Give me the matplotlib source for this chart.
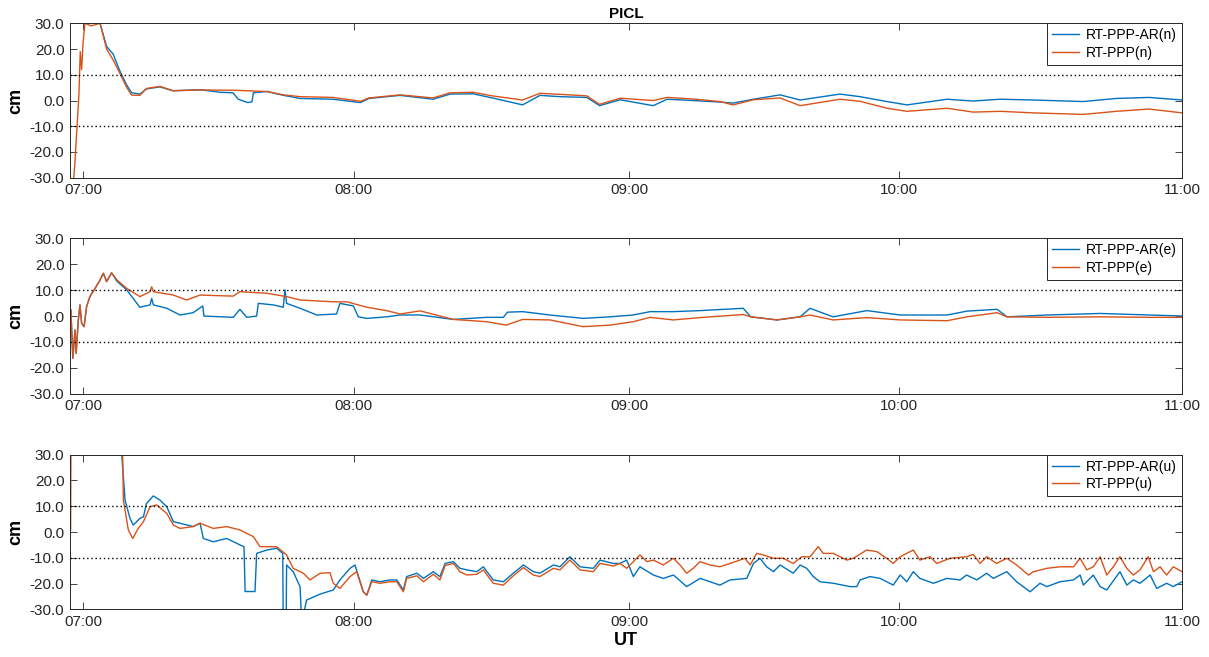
import matplotlib
matplotlib.use("Agg")
import matplotlib.pyplot as plt
from matplotlib.ticker import FormatStrFormatter

plt.rcParams['font.family'] = ['Liberation Sans', 'DejaVu Sans']
plt.rcParams['axes.unicode_minus'] = False

# time in decimal hours (UT), values in cm
# --- north ---
n_ar_t = [7.0, 7.062, 7.086, 7.11, 7.134, 7.159, 7.177, 7.207, 7.231, 7.28, 7.327, 7.426, 7.5, 7.546,
          7.565, 7.6, 7.615, 7.62, 7.67, 7.73, 7.79, 7.91, 8.01, 8.04, 8.154, 8.274, 8.336, 8.42, 8.49,
          8.6, 8.663, 8.736, 8.834, 8.88, 8.955, 9.075, 9.126, 9.22, 9.318, 9.366, 9.44, 9.537, 9.61,
          9.755, 9.828, 9.926, 9.999, 10.145, 10.24, 10.338, 10.458, 10.64, 10.76, 10.88, 11.0]
n_ar_v = [35, 30, 21, 18, 11.5, 6, 3, 2.5, 4.5, 5.3, 3.8, 4.2, 3.2, 3.0,
          0.5, -0.8, -0.5, 3.0, 3.5, 2.0, 0.8, 0.5, -0.8, 0.8, 2.0, 0.5, 2.5, 2.6, 1.0,
          -1.7, 2.0, 1.5, 1.2, -2.0, 0.3, -2.0, 0.5, 0.0, -0.6, -1.0, 0.5, 2.2, 0.2,
          2.5, 1.5, -0.4, -1.7, 0.5, -0.2, 0.5, 0.2, -0.4, 0.8, 1.2, 0.2]
n_t = [6.955, 6.97, 6.985, 6.99, 6.995, 7.0, 7.007, 7.03, 7.062, 7.086, 7.11, 7.134, 7.159, 7.177,
       7.207, 7.231, 7.28, 7.327, 7.426, 7.546, 7.67, 7.73, 7.79, 7.91, 8.01, 8.04, 8.154, 8.274,
       8.336, 8.42, 8.49, 8.6, 8.663, 8.736, 8.834, 8.88, 8.955, 9.075, 9.126, 9.22, 9.318, 9.366,
       9.44, 9.537, 9.61, 9.755, 9.828, 9.926, 9.999, 10.145, 10.24, 10.338, 10.458, 10.64, 10.76,
       10.88, 11.0]
n_v = [-45, -25, 2, 19, 12, 22, 30, 29, 30, 20, 15.7, 10.6, 5.1, 2.1,
       2.0, 4.7, 5.5, 3.8, 4.1, 4.0, 3.5, 2.2, 1.5, 1.2, -0.3, 1.0, 2.2, 1.0,
       3.0, 3.2, 1.8, 0.2, 2.8, 2.4, 1.8, -1.5, 0.9, 0.0, 1.2, 0.6, -0.4, -1.7,
       0.3, 1.0, -2.0, 0.5, -0.3, -3.0, -4.2, -3.0, -4.5, -4.2, -4.8, -5.4, -4.2,
       -3.3, -4.8]

# --- east ---
e_ar_t = [6.956, 6.963, 6.971, 6.975, 6.983, 6.989, 6.995, 7.004, 7.013, 7.025, 7.044, 7.062, 7.074,
          7.086, 7.104, 7.123, 7.159, 7.207, 7.244, 7.25, 7.256, 7.305, 7.353, 7.401, 7.436, 7.44,
          7.547, 7.571, 7.596, 7.632, 7.638, 7.693, 7.729, 7.735, 7.741, 7.79, 7.851, 7.923, 7.935,
          7.984, 8.002, 8.033, 8.105, 8.154, 8.227, 8.347, 8.47, 8.53, 8.545, 8.6, 8.7, 8.82, 8.918,
          9.002, 9.064, 9.148, 9.246, 9.403, 9.43, 9.526, 9.61, 9.646, 9.73, 9.853, 9.974, 10.145,
          10.217, 10.327, 10.363, 10.509, 10.702, 10.884, 11.0]
e_ar_v = [2.3, -16.3, -5.4, -14.4, -1.5, 4.3, -2.8, -4.1, 3.6, 7.5, 10.7, 13.9, 16.5,
          13.3, 16.7, 13.5, 10.1, 3.4, 4.3, 6.8, 4.3, 3.0, 0.4, 1.3, 3.9, 0.0,
          -0.5, 2.6, -0.5, 0.0, 4.9, 4.3, 3.4, 10.1, 4.9, 3.0, 0.4, 0.8, 4.9,
          3.9, -0.3, -0.9, -0.3, 0.4, 0.4, -1.3, -0.5, -0.5, 1.5, 1.7, 0.4, -0.9, -0.3,
          0.4, 1.7, 1.7, 2.1, 3.0, -0.3, -1.5, -0.3, 3.0, -0.3, 2.1, 0.4, 0.4,
          1.9, 2.6, -0.3, 0.4, 1.0, 0.4, 0.0]
e_t = [6.956, 6.963, 6.971, 6.975, 6.983, 6.989, 6.995, 7.004, 7.013, 7.025, 7.044, 7.062, 7.074,
       7.086, 7.104, 7.123, 7.159, 7.207, 7.244, 7.25, 7.256, 7.329, 7.377, 7.426, 7.547, 7.571,
       7.669, 7.741, 7.79, 7.911, 7.96, 8.033, 8.105, 8.154, 8.227, 8.347, 8.47, 8.54, 8.6, 8.7,
       8.82, 8.918, 9.002, 9.064, 9.148, 9.246, 9.403, 9.43, 9.526, 9.61, 9.646, 9.73, 9.853,
       9.974, 10.145, 10.217, 10.327, 10.363, 10.509, 10.702, 10.884, 11.0]
e_v = [2.3, -16.3, -5.4, -14.4, -1.5, 4.3, -2.8, -4.1, 3.6, 7.5, 10.7, 13.9, 16.5,
       13.3, 16.7, 14.0, 10.7, 7.5, 9.4, 11.3, 9.4, 8.1, 6.2, 8.1, 7.7, 9.4,
       8.8, 7.5, 6.2, 5.5, 5.5, 3.4, 2.1, 0.8, 2.0, -1.3, -2.2, -3.5, -1.3, -1.5,
       -4.1, -3.5, -2.2, -0.5, -1.5, -0.6, 0.6, -0.3, -1.5, -0.3, 0.4, -1.5, -0.6,
       -1.5, -1.8, -0.3, 1.3, -0.3, -0.5, -0.3, -0.5, -0.5]

# --- up ---
u_ar_t = [7.0, 7.135, 7.141, 7.153, 7.171, 7.183, 7.207, 7.22, 7.231, 7.256, 7.28, 7.305, 7.329,
          7.353, 7.401, 7.426, 7.438, 7.474, 7.523, 7.571, 7.586, 7.59, 7.626, 7.632, 7.669, 7.705,
          7.727, 7.729, 7.739, 7.741, 7.765, 7.79, 7.796, 7.814, 7.863, 7.911,
          7.935, 7.972, 7.99, 8.02, 8.033, 8.051, 8.081, 8.117, 8.142, 8.166, 8.178, 8.215, 8.239,
          8.275, 8.299, 8.318, 8.348, 8.372, 8.397, 8.433, 8.457, 8.493, 8.53, 8.566, 8.603, 8.639,
          8.663, 8.712, 8.736, 8.772, 8.809, 8.857, 8.882, 8.93,
          8.954, 8.979, 9.003, 9.027, 9.076, 9.112, 9.149, 9.197, 9.246, 9.282, 9.318, 9.355, 9.416,
          9.44, 9.464, 9.488, 9.513, 9.537, 9.585, 9.61, 9.634, 9.658, 9.682, 9.731, 9.792, 9.816,
          9.828, 9.864, 9.901, 9.949,
          9.974, 9.998, 10.022, 10.046, 10.095, 10.144, 10.192, 10.216, 10.253, 10.289, 10.313,
          10.362, 10.398, 10.447, 10.483, 10.508, 10.556, 10.605, 10.629, 10.641, 10.677, 10.702,
          10.726, 10.774, 10.799, 10.823, 10.847, 10.884, 10.908, 10.944, 10.968, 11.0]
u_ar_v = [60, 60, 30, 12.4, 5.3, 2.7, 5.3, 5.9, 11.1, 14.0, 12.4, 9.8, 4.0,
          3.4, 2.1, 3.4, -2.5, -3.8, -2.5, -5.0, -5.7, -23.1, -23.1, -8.3, -7.0, -6.3,
          -8.3, -40, -40, -12.8, -15.4, -21.2, -35, -26.4, -24.1, -22.5,
          -18.6, -14.1, -12.8, -23.2, -24.5, -18.6, -19.3, -18.6, -18.6, -22.5, -17.3, -16.0, -18.0,
          -15.4, -17.3, -12.2, -11.5, -14.1, -14.7, -15.4, -13.5, -18.6, -19.3, -16.0, -12.8, -15.4,
          -16.0, -12.8, -13.5, -9.6, -13.5, -14.1, -10.9, -12.2,
          -12.2, -10.9, -17.3, -13.5, -16.7, -18.0, -16.7, -21.2, -18.0, -19.3, -20.6, -18.6, -18.0,
          -12.2, -10.2, -13.5, -15.4, -12.8, -16.0, -12.8, -14.1, -17.3, -19.3, -19.9, -21.2, -21.2,
          -18.6, -17.3, -18.0, -20.6,
          -16.7, -19.3, -15.4, -18.0, -19.9, -18.0, -18.6, -16.7, -18.6, -16.0, -18.0,
          -15.4, -19.3, -23.2, -19.9, -21.2, -19.3, -18.6, -16.7, -20.6, -16.7, -21.2,
          -22.5, -15.4, -20.6, -18.6, -19.9, -16.7, -21.9, -19.9, -21.2, -19.3]
u_t = [6.955, 6.957, 7.14, 7.147, 7.165, 7.181, 7.201, 7.22, 7.244, 7.268, 7.305, 7.329, 7.353,
       7.401, 7.426, 7.474, 7.523, 7.571, 7.62, 7.644, 7.669, 7.705, 7.741, 7.765, 7.802, 7.826,
       7.863, 7.899, 7.911,
       7.935, 7.972, 7.996, 8.02, 8.033, 8.051, 8.081, 8.117, 8.142, 8.166, 8.178, 8.215, 8.239,
       8.275, 8.299, 8.318, 8.348, 8.372, 8.397, 8.433, 8.457, 8.493, 8.53, 8.566, 8.603, 8.639,
       8.663, 8.712, 8.736, 8.772, 8.809, 8.857, 8.882, 8.93,
       8.954, 8.979, 9.003, 9.027, 9.052, 9.076, 9.112, 9.149, 9.173, 9.197, 9.221, 9.246, 9.282,
       9.318, 9.355, 9.409, 9.428, 9.452, 9.476, 9.513, 9.549, 9.585, 9.616, 9.646, 9.676, 9.694,
       9.731, 9.78, 9.804, 9.852, 9.889, 9.925, 9.949,
       9.974, 10.022, 10.046, 10.083, 10.107, 10.156, 10.216, 10.24, 10.265, 10.289, 10.325,
       10.362, 10.398, 10.441, 10.459, 10.508, 10.556, 10.605, 10.629, 10.653, 10.677, 10.702,
       10.726, 10.75, 10.774, 10.799, 10.823, 10.847, 10.877, 10.896, 10.92, 10.944, 10.968, 11.0]
u_v = [1, 60, 60, 12.4, 0.8, -2.5, 1.4, 4.0, 9.8, 10.5, 7.2, 2.7, 1.4,
       2.1, 3.4, 1.4, 2.1, 0.8, -1.8, -5.7, -5.7, -5.7, -8.9, -14.1, -16.0, -18.6,
       -16.0, -15.8, -19.9,
       -21.9, -17.3, -15.4, -23.2, -24.5, -19.3, -19.9, -19.3, -19.3, -23.2, -18.0, -17.0, -19.3,
       -16.4, -18.6, -13.0, -12.2, -15.4, -16.7, -16.4, -14.7, -19.9, -20.6, -17.0, -13.8, -16.7,
       -17.3, -14.1, -14.7, -10.9, -14.7, -15.4, -12.2, -13.2,
       -12.2, -14.1, -11.5, -8.9, -11.5, -10.9, -12.8, -10.2, -12.8, -16.0, -14.1, -11.5, -12.8,
       -13.5, -12.2, -10.2, -12.8, -8.3, -8.9, -10.2, -10.2, -12.2, -9.6, -9.6, -5.7, -8.3,
       -8.3, -10.9, -10.2, -7.0, -7.6, -10.2, -12.2,
       -9.6, -7.0, -10.9, -9.6, -12.2, -10.2, -9.6, -8.7, -12.2, -9.6, -12.2,
       -10.2, -12.8, -16.7, -15.4, -14.1, -13.5, -13.5, -10.2, -14.7, -13.5, -9.6,
       -16.7, -13.5, -9.6, -14.1, -16.7, -14.7, -9.6, -15.4, -13.5, -16.7, -13.5, -15.4]

# hour tick marks as they sit in the source figure
hour_ticks = [7.0, 7.986, 8.987, 9.970, 11.0]
hour_labels = ['07:00', '08:00', '09:00', '10:00', '11:00']
y_ticks = [-30, -20, -10, 0, 10, 20, 30]
comp_labels = ['n', 'e', 'u']

BLUE = '#0072BD'
ORANGE = '#D95319'
AXC = '#262626'

fig = plt.figure(figsize=(12.09, 6.57), dpi=100)
boxes = [(0.0579, 0.7295, 0.9198, 0.235),
         (0.0579, 0.4007, 0.9198, 0.2365),
         (0.0579, 0.0726, 0.9198, 0.2353)]
series = [(n_ar_t, n_ar_v, n_t, n_v), (e_ar_t, e_ar_v, e_t, e_v), (u_ar_t, u_ar_v, u_t, u_v)]

for box, (t1, v1, t2, v2), c in zip(boxes, series, comp_labels):
    ax = fig.add_axes(box)
    ax.plot(t1, v1, color=BLUE, lw=1.0, label=f'RT-PPP-AR({c})')
    ax.plot(t2, v2, color=ORANGE, lw=1.0, label=f'RT-PPP({c})')
    for lev in (10, -10):
        ax.axhline(lev, color='black', lw=1.0, linestyle=(0, (1, 2)))
    ax.set_xlim(6.9527, 11.0)
    ax.set_ylim(-30, 30)
    ax.set_xticks(hour_ticks)
    ax.set_xticklabels(hour_labels)
    ax.set_yticks(y_ticks)
    ax.yaxis.set_major_formatter(FormatStrFormatter('%.1f'))
    ax.tick_params(direction='in', length=5, width=0.6, top=True, right=True,
                   labelsize=11, colors=AXC, pad=4)
    for sp in ax.spines.values():
        sp.set_color(AXC)
        sp.set_linewidth(0.7)
    ax.set_ylabel('cm', fontsize=13, fontweight='bold', labelpad=4)
    leg = ax.legend(loc='upper right', fontsize=10, fancybox=False, borderaxespad=0,
                    handlelength=2.0, handletextpad=0.5, framealpha=1, borderpad=0.35,
                    labelspacing=0.25)
    leg.get_frame().set_edgecolor(AXC)
    leg.get_frame().set_linewidth(0.7)
    if c == 'n':
        ax.set_title('PICL', fontsize=11, fontweight='bold', pad=4)
    if c == 'u':
        ax.set_xlabel('UT', fontsize=13, fontweight='bold', labelpad=2)

fig.savefig('out.png', dpi=100)
